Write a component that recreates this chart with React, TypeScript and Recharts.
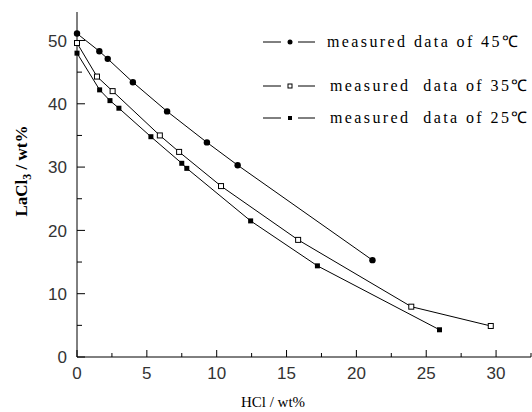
import { ScatterChart, Scatter, XAxis, YAxis } from "recharts";

// HCl (x) and LaCl3 (y), wt%
const hcl45 = [0, 1.6, 2.2, 4.0, 6.45, 9.3, 11.5, 21.15];
const lacl45 = [51.1, 48.3, 47.1, 43.4, 38.8, 33.9, 30.3, 15.3];
const hcl35 = [0, 1.43, 2.55, 5.93, 7.31, 10.31, 15.83, 23.93, 29.62];
const lacl35 = [49.6, 44.3, 42.0, 35.0, 32.4, 27.0, 18.5, 7.95, 4.9];
const hcl25 = [0, 1.62, 2.36, 3.0, 5.29, 7.5, 7.86, 12.43, 17.21, 25.95];
const lacl25 = [48.0, 42.2, 40.5, 39.3, 34.8, 30.6, 29.8, 21.5, 14.4, 4.3];

const xTicks = [0, 2.5, 5, 7.5, 10, 12.5, 15, 17.5, 20, 22.5, 25, 27.5, 30, 32.5];
const yTicks = [0, 5, 10, 15, 20, 25, 30, 35, 40, 45, 50];
const legendLabels = [
  "measured data of 45\u2103",
  "measured  data of 35\u2103",
  "measured  data of 25\u2103",
];

const toPoints = (xs: number[], ys: number[]) => xs.map((x, i) => ({ x, y: ys[i] }));

const TICK_FONT = "'Liberation Sans', Arial, sans-serif";
const SERIF = "'Liberation Serif', 'Times New Roman', serif";

const XTick = (props: any) => {
  const { x, y, payload } = props;
  const v = payload.value as number;
  const major = v % 5 === 0;
  return (
    <g>
      <line x1={x} x2={x} y1={y} y2={y - (major ? 7 : 4)} stroke="#000" />
      {major && (
        <text x={x} y={y + 22} textAnchor="middle" fontSize={17} fontFamily={TICK_FONT} fill="#333">
          {v}
        </text>
      )}
    </g>
  );
};

const YTick = (props: any) => {
  const { x, y, payload } = props;
  const v = payload.value as number;
  const major = v % 10 === 0;
  return (
    <g>
      <line x1={x} x2={x + (major ? 8 : 5)} y1={y} y2={y} stroke="#000" />
      {major && (
        <text x={x - 10} y={y} dy="0.36em" textAnchor="end" fontSize={17} fontFamily={TICK_FONT} fill="#333">
          {v}
        </text>
      )}
    </g>
  );
};

const Dot = (p: any) => <circle cx={p.cx} cy={p.cy} r={3.2} fill="#000" />;
const OpenSq = (p: any) => (
  <rect x={p.cx - 2.5} y={p.cy - 2.5} width={5} height={5} fill="#fff" stroke="#000" strokeWidth={1} />
);
const FilledSq = (p: any) => <rect x={p.cx - 2.5} y={p.cy - 2.5} width={5} height={5} fill="#000" />;

const legendMarkers = [
  (cx: number, cy: number) => <circle cx={cx} cy={cy} r={2.5} fill="#000" />,
  (cx: number, cy: number) => (
    <rect x={cx - 2} y={cy - 2} width={4} height={4} fill="#fff" stroke="#000" />
  ),
  (cx: number, cy: number) => <rect x={cx - 2} y={cy - 2} width={4} height={4} fill="#000" />,
];
const legendRows = [42, 86, 118];

export default function App() {
  return (
    <div style={{ position: "absolute", left: 0, top: 0, width: 532, height: 412, background: "#fff" }}>
      <ScatterChart width={532} height={412} margin={{ top: 12, right: 1, bottom: 0, left: 0 }}>
        <XAxis
          type="number"
          dataKey="x"
          domain={[0, 32.5]}
          ticks={xTicks}
          interval={0}
          tick={XTick}
          tickLine={false}
          tickSize={0}
          tickMargin={0}
          height={55}
          axisLine={{ stroke: "#000" }}
        />
        <YAxis
          type="number"
          dataKey="y"
          domain={[0, 54.5]}
          ticks={yTicks}
          interval={0}
          tick={YTick}
          tickLine={false}
          tickSize={0}
          tickMargin={0}
          width={77}
          axisLine={{ stroke: "#000" }}
        />
        <Scatter data={toPoints(hcl45, lacl45)} line={{ stroke: "#000", strokeWidth: 1 }} shape={Dot} isAnimationActive={false} />
        <Scatter data={toPoints(hcl35, lacl35)} line={{ stroke: "#000", strokeWidth: 1 }} shape={OpenSq} isAnimationActive={false} />
        <Scatter data={toPoints(hcl25, lacl25)} line={{ stroke: "#000", strokeWidth: 1 }} shape={FilledSq} isAnimationActive={false} />
      </ScatterChart>

      <svg width={532} height={412} style={{ position: "absolute", left: 0, top: 0, pointerEvents: "none" }}>
        {legendLabels.map((label, i) => {
          const cy = legendRows[i];
          return (
            <g key={label}>
              <line x1={263} x2={281} y1={cy} y2={cy} stroke="#000" />
              <line x1={298} x2={315} y1={cy} y2={cy} stroke="#000" />
              {legendMarkers[i](290, cy)}
              <text
                x={i === 0 ? 327 : 330}
                y={cy}
                dy="0.32em"
                fontSize={16}
                letterSpacing={2.4}
                fontFamily={SERIF}
                fill="#000"
                style={{ whiteSpace: "pre" }}
              >
                {label}
              </text>
            </g>
          );
        })}
        <text
          transform="translate(27,171) rotate(-90)"
          textAnchor="middle"
          fontSize={17}
          fontWeight="bold"
          fontFamily={SERIF}
          fill="#000"
        >
          LaCl<tspan fontSize={12} dy={4}>3</tspan>
          <tspan dy={-4}> / wt%</tspan>
        </text>
        <text x={273} y={407} textAnchor="middle" fontSize={15} fontFamily={SERIF} fill="#000">
          HCl / wt%
        </text>
      </svg>
    </div>
  );
}
